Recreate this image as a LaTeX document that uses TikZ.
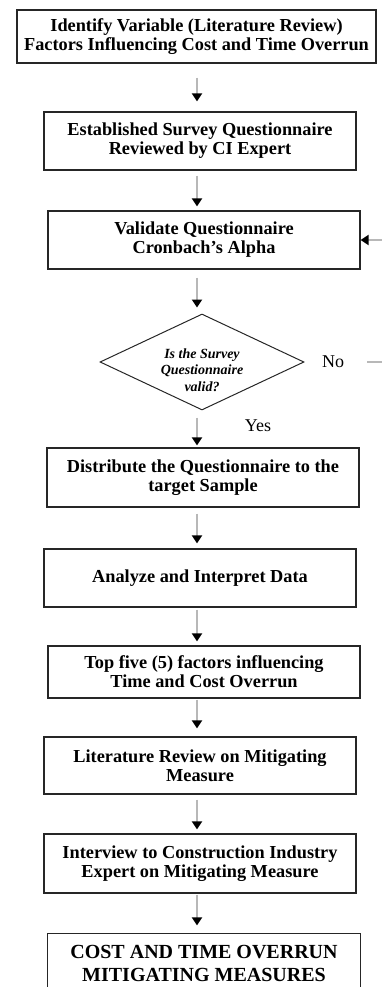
\documentclass[tikz,border=0pt]{standalone}
\usepackage{fontspec}
\setmainfont{Liberation Serif}
\usetikzlibrary{arrows.meta,shapes.geometric}
\begin{document}
\begin{tikzpicture}[x=1pt,y=-1pt,
  boxline/.style={draw=black!85, line width=1.2pt},
  stepbox/.style={boxline, rectangle, minimum width=312pt,
    inner sep=0pt, align=center, font=\bfseries\fontsize{18.3}{19}\selectfont},
  flow/.style={draw=black!28, line width=2pt,
    -{Triangle[width=10pt,length=8pt,black]}},
  decision/.style={draw=black!85, line width=1pt, diamond, minimum width=204pt,
    minimum height=96pt, inner sep=0pt},
  answer/.style={inner sep=0pt, font=\fontsize{18}{20}\selectfont}]
\useasboundingbox (0,0) rectangle (382,987);

% process steps
\node[stepbox, minimum width=359pt, minimum height=53pt] (s1) at (196.5,36.5)
  {Identify Variable (Literature Review)\\Factors Influencing Cost and Time Overrun};
\node[stepbox, minimum height=58pt] (s2) at (200,141)
  {Established Survey Questionnaire\\Reviewed by CI Expert};
\node[stepbox, minimum height=58pt] (s3) at (204,240)
  {Validate Questionnaire\\Cronbach’s Alpha};
\node[decision] (dec) at (202,362) {};
\node[inner sep=0pt, align=center, font=\bfseries\itshape\fontsize{14}{16.5}\selectfont]
  (dectext) at (202,370) {Is the Survey\\Questionnaire\\valid?};
\node[answer] (no) at (333,362) {No};
\node[answer] (yes) at (258,426) {Yes};
\node[stepbox, minimum height=59pt] (s4) at (203,477.5)
  {Distribute the Questionnaire to the\\target Sample};
\node[stepbox, minimum height=58pt] (s5) at (200,578)
  {Analyze and Interpret Data};
\node[stepbox, minimum height=52pt] (s6) at (204,672)
  {Top five (5) factors influencing\\Time and Cost Overrun};
\node[stepbox, minimum height=57pt] (s7) at (200,765.5)
  {Literature Review on Mitigating\\Measure};
\node[stepbox, minimum height=59pt] (s8) at (200,863.5)
  {Interview to Construction Industry\\Expert on Mitigating Measure};
% last step: its frame runs on past the lower edge of the page
\node[stepbox, draw=none, minimum height=58pt, font=\bfseries\fontsize{20}{23}\selectfont]
  (s9) at (204,963) {COST AND TIME OVERRUN\\MITIGATING MEASURES};
\draw[boxline] (s9.north west) rectangle ([yshift=-30pt]s9.south east);

% connectors
\coordinate (ax) at (197,0);
\draw[flow, shorten <=14pt, shorten >=10pt] (s1.south -| ax) -- (s2.north -| ax);
\draw[flow, shorten <=5pt, shorten >=4pt] (s2.south -| ax) -- (s3.north -| ax);
\draw[flow, shorten <=8pt, shorten >=6pt] (s3.south -| ax) -- (dec.north -| ax);
\draw[flow, shorten <=7pt, shorten >=2pt] (dec.south -| ax) -- (s4.north -| ax);
\draw[flow, shorten <=6pt, shorten >=5pt] (s4.south -| ax) -- (s5.north -| ax);
\draw[flow, shorten <=2pt, shorten >=4pt] (s5.south -| ax) -- (s6.north -| ax);
\draw[flow, shorten <=1pt, shorten >=8pt] (s6.south -| ax) -- (s7.north -| ax);
\draw[flow, shorten <=5pt, shorten >=4pt] (s7.south -| ax) -- (s8.north -| ax);
\draw[flow, shorten <=1pt, shorten >=8pt] (s8.south -| ax) -- (s9.north -| ax);

% loop back when the questionnaire is not valid
\coordinate (loopstart) at (367,362);
\coordinate (loopcorner) at (392,362);
\draw[flow] (loopstart) -- (loopcorner) |- (s3.east);
\end{tikzpicture}
\end{document}
